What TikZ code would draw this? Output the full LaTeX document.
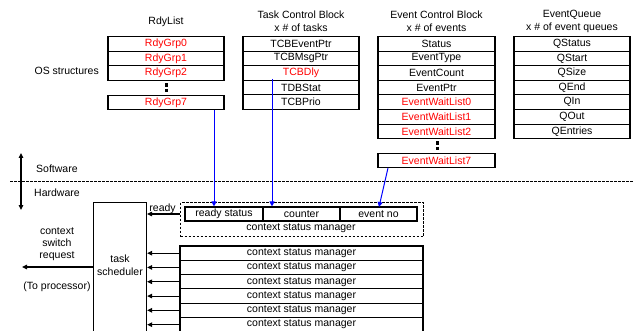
\documentclass[tikz,border=0pt]{standalone}
\usepackage{fontspec}
\setmainfont{Liberation Sans}
\usetikzlibrary{arrows.meta}
\begin{document}
\begin{tikzpicture}[x=1pt,y=-1pt,
  font=\fontsize{10.5}{12}\selectfont,
  cell/.style={draw,line width=1.1pt,minimum height=14.6pt,inner sep=0pt,anchor=center},
  rdy/.style={cell,minimum width=116pt},
  tcb/.style={cell,minimum width=116pt},
  ecb/.style={cell,minimum width=117pt},
  eq/.style={cell,minimum width=116pt},
  red/.style={text=red},
  ttl/.style={align=center,inner sep=0pt},
  vdots/.style={line width=3pt,dash pattern=on 4pt off 1.2pt},
  tip/.style={-{Triangle[length=5pt,width=4.5pt]}},
  bluearr/.style={blue,line width=1pt,-{Triangle[length=5pt,width=5pt]}},
  csm/.style={cell,minimum width=243pt,minimum height=14.3pt},
  inbox/.style={cell,minimum height=14pt}
]
\useasboundingbox (0,0) rectangle (634,331);
\clip (0,0) rectangle (634,331);

% titles
\node[ttl] (t1) at (166,22) {RdyList};
\node[ttl] (t2) at (301,15) {Task Control Block};
\node[ttl] (t2b) at (301,28) {x \# of tasks};
\node[ttl] (t3) at (436.5,15) {Event Control Block};
\node[ttl] (t3b) at (436.5,28) {x \# of events};
\node[ttl] (t4) at (572,15) {EventQueue};
\node[ttl] (t4b) at (572,28) {x \# of event queues};
\node[ttl,anchor=east] (os) at (99,71) {OS structures};

% RdyList
\node[rdy,red] (rg0) at (166,44) {RdyGrp0};
\node[rdy,red] (rg1) at (166,58.6) {RdyGrp1};
\node[rdy,red] (rg2) at (166,73.2) {RdyGrp2};
\node[rdy,red] (rg7) at (166,102.6) {RdyGrp7};
\coordinate (d1a) at (166,83.5);
\coordinate (d1b) at (166,92);
\draw[vdots] (d1a) -- (d1b);

% TCB
\node[tcb] (tc0) at (301,43.8) {TCBEventPtr};
\node[tcb] (tc1) at (301,58.4) {TCBMsgPtr};
\node[tcb,red] (tc2) at (301,73) {TCBDly};
\node[tcb] (tc3) at (301,87.6) {TDBStat};
\node[tcb] (tc4) at (301,102.2) {TCBPrio};

% ECB
\node[ecb] (e0) at (436.5,43.8) {Status};
\node[ecb] (e1) at (436.5,58.4) {EventType};
\node[ecb] (e2) at (436.5,73) {EventCount};
\node[ecb] (e3) at (436.5,87.6) {EventPtr};
\node[ecb,red] (e4) at (436.5,102.2) {EventWaitList0};
\node[ecb,red] (e5) at (436.5,116.8) {EventWaitList1};
\node[ecb,red] (e6) at (436.5,131.4) {EventWaitList2};
\node[ecb,red] (e7) at (436.5,160.6) {EventWaitList7};
\coordinate (d2a) at (437,141.5);
\coordinate (d2b) at (437,150);
\draw[vdots] (d2a) -- (d2b);

% EventQueue
\node[eq] (q0) at (572,43.8) {QStatus};
\node[eq] (q1) at (572,58.4) {QStart};
\node[eq] (q2) at (572,73) {QSize};
\node[eq] (q3) at (572,87.6) {QEnd};
\node[eq] (q4) at (572,102.2) {QIn};
\node[eq] (q5) at (572,116.8) {QOut};
\node[eq] (q6) at (572,131.4) {QEntries};

% software / hardware
\coordinate (sw1) at (21,153);
\coordinate (sw2) at (21,210);
\draw[line width=1.1pt,{Triangle[length=5pt,width=4.5pt]}-{Triangle[length=5pt,width=4.5pt]}] (sw1) -- (sw2);
\node[ttl,anchor=west] (sw) at (36,169) {Software};
\node[ttl,anchor=west] (hw) at (34,193) {Hardware};
\coordinate (dl1) at (10,182);
\coordinate (dl2) at (634,182);
\draw[line width=1pt,dash pattern=on 2.5pt off 1.5pt] (dl1) -- (dl2);

% task scheduler
\node[draw,line width=1.1pt,minimum width=53pt,minimum height=200pt,inner sep=0pt,anchor=north west] (ts) at (93,202) {};
\node[ttl,align=center] (tst) at (120,265) {task\\[1pt]scheduler};
\node[ttl,align=center] (csr) at (57,244) {context\\switch\\request};
\node[ttl] (tp) at (57,287) {(To processor)};
\coordinate (cpu) at (22,267);
\draw[line width=1.1pt,tip] (ts.west |- cpu) -- (cpu);

% dashed context manager
\node[draw,line width=1.1pt,dash pattern=on 2.5pt off 1.5pt,minimum width=243pt,minimum height=34pt,inner sep=0pt,anchor=north west] (dbox) at (180,202) {};
\node[inbox,minimum width=78pt] (rs) at (224,214) {ready status};
\node[inbox,minimum width=77pt] (cnt) at (301.5,214) {counter};
\node[inbox,minimum width=77pt] (evn) at (378.5,214) {event no};
\node[ttl] (dcsm) at (301,228) {context status manager};
\draw[line width=1.1pt,tip] (dbox.west |- rs) -- node[above,inner sep=1pt,xshift=-1pt,yshift=-1pt] {ready} (ts.east |- rs);

% context status managers
\foreach \i in {0,...,5}{
  \node[csm] (c\i) at (301.5,253.15+14.3*\i) {context status manager};
  \draw[line width=1.1pt,tip] (c\i.west) -- (ts.east |- c\i.west);
}

% blue arrows
\coordinate (b1) at (214,110);
\coordinate (b2) at (272,79);
\coordinate (b3) at (388,168);
\draw[bluearr] (b1) -- (b1 |- rs.north);
\draw[bluearr] (b2) -- (b2 |- cnt.north);
\draw[bluearr] (b3) -- (379,207);
\end{tikzpicture}
\end{document}
